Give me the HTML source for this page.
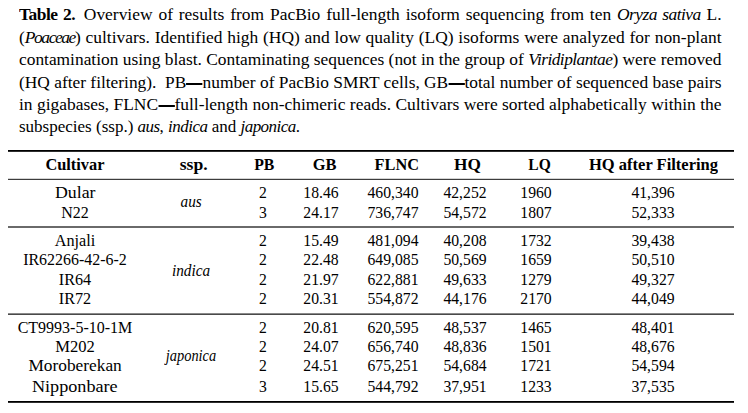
<!DOCTYPE html>
<html><head><meta charset="utf-8"><style>
html,body{margin:0;padding:0;background:#fff;}
body{width:748px;height:413px;position:relative;overflow:hidden;font-family:"Liberation Serif",serif;color:#000;}
.cap{position:absolute;left:19px;white-space:nowrap;font-size:16px;line-height:20px;transform-origin:0 0;}
.j{text-align:justify;text-align-last:justify;white-space:nowrap;}
.c{position:absolute;white-space:nowrap;font-size:16px;line-height:20px;width:300px;text-align:center;}
.c span{display:inline-block;}
.rule{position:absolute;left:8px;width:726px;}
b{font-weight:bold;}
.cap b{letter-spacing:-0.45px;}
.cap i{letter-spacing:-0.5px;}
.d{display:inline-block;width:15px;height:1.6px;background:#000;vertical-align:3.4px;}
</style></head>
<body>
<div class="cap j" style="top:5.00px;width:644.50px;transform:scaleX(1.0900)"><b>Table 2.</b>&ensp;Overview of results from PacBio full-length isoform sequencing from ten <i>Oryza sativa</i> L.</div>
<div class="cap j" style="top:27.50px;width:644.50px;transform:scaleX(1.0900)">(<i style="letter-spacing:-1.3px">Poaceae</i>) cultivars. Identified high (HQ) and low quality (LQ) isoforms were analyzed for non-plant</div>
<div class="cap j" style="top:50.00px;width:647.14px;transform:scaleX(1.0855)">contamination using blast. Contaminating sequences (not in the group of <i>Viridiplantae</i>) were removed</div>
<div class="cap j" style="top:73.00px;width:647.60px;transform:scaleX(1.0848)">(HQ after filtering).&ensp;PB<span class=d></span>number of PacBio SMRT cells, GB<span class=d></span>total number of sequenced base pairs</div>
<div class="cap j" style="top:95.00px;width:644.50px;transform:scaleX(1.0900)">in gigabases, FLNC<span class=d></span>full-length non-chimeric reads. Cultivars were sorted alphabetically within the</div>
<div class="cap" style="top:117.00px;transform:scaleX(1.0628)">subspecies (ssp.) <i>aus</i>, <i>indica</i> and <i>japonica</i>.</div>
<div class="rule" style="top:150px;height:1px;background:#000"></div>
<div class="rule" style="top:151px;height:1px;background:#2e2e2e"></div>
<div class="rule" style="top:178px;height:1px;background:#d4d4d4"></div>
<div class="rule" style="top:179px;height:1px;background:#3c3c3c"></div>
<div class="rule" style="top:226px;height:2px;background:#6a6a6a"></div>
<div class="rule" style="top:313px;height:1px;background:#8a8a8a"></div>
<div class="rule" style="top:314px;height:1px;background:#4a4a4a"></div>
<div class="rule" style="top:401px;height:1px;background:#000"></div>
<div class="rule" style="top:402px;height:1px;background:#2e2e2e"></div>
<div class="c" style="left:-75.50px;top:154.60px;font-weight:bold"><span style="transform:scaleX(1.0210)">Cultivar</span></div>
<div class="c" style="left:43.60px;top:154.60px;font-weight:bold"><span style="transform:scaleX(1.1000)">ssp.</span></div>
<div class="c" style="left:114.40px;top:154.60px;font-weight:bold"><span style="transform:scaleX(0.9840)">PB</span></div>
<div class="c" style="left:174.40px;top:154.60px;font-weight:bold"><span style="transform:scaleX(1.0270)">GB</span></div>
<div class="c" style="left:246.30px;top:154.60px;font-weight:bold"><span style="transform:scaleX(1.0190)">FLNC</span></div>
<div class="c" style="left:317.70px;top:154.60px;font-weight:bold"><span style="transform:scaleX(1.0790)">HQ</span></div>
<div class="c" style="left:390.00px;top:154.60px;font-weight:bold"><span style="transform:scaleX(0.9730)">LQ</span></div>
<div class="c" style="left:503.70px;top:154.60px;font-weight:bold"><span style="transform:scaleX(1.0320)">HQ after Filtering</span></div>
<div class="c" style="left:-75.00px;top:182.60px;"><span style="transform:scaleX(1.1110)">Dular</span></div>
<div class="c" style="left:113.00px;top:182.60px;"><span style="transform:scaleX(0.9800)">2</span></div>
<div class="c" style="left:171.00px;top:182.60px;"><span style="transform:scaleX(0.9800)">18.46</span></div>
<div class="c" style="left:243.00px;top:182.60px;"><span style="transform:scaleX(0.9800)">460,340</span></div>
<div class="c" style="left:315.20px;top:182.60px;"><span style="transform:scaleX(0.9800)">42,252</span></div>
<div class="c" style="left:386.20px;top:182.60px;"><span style="transform:scaleX(0.9800)">1960</span></div>
<div class="c" style="left:503.00px;top:182.60px;"><span style="transform:scaleX(0.9800)">41,396</span></div>
<div class="c" style="left:-75.00px;top:202.60px;"><span style="transform:scaleX(1.0000)">N22</span></div>
<div class="c" style="left:113.00px;top:202.60px;"><span style="transform:scaleX(0.9800)">3</span></div>
<div class="c" style="left:171.00px;top:202.60px;"><span style="transform:scaleX(0.9800)">24.17</span></div>
<div class="c" style="left:243.00px;top:202.60px;"><span style="transform:scaleX(0.9800)">736,747</span></div>
<div class="c" style="left:315.20px;top:202.60px;"><span style="transform:scaleX(0.9800)">54,572</span></div>
<div class="c" style="left:386.20px;top:202.60px;"><span style="transform:scaleX(0.9800)">1807</span></div>
<div class="c" style="left:503.00px;top:202.60px;"><span style="transform:scaleX(0.9800)">52,333</span></div>
<div class="c" style="left:-75.00px;top:230.80px;"><span style="transform:scaleX(1.0130)">Anjali</span></div>
<div class="c" style="left:113.00px;top:230.80px;"><span style="transform:scaleX(0.9800)">2</span></div>
<div class="c" style="left:171.00px;top:230.80px;"><span style="transform:scaleX(0.9800)">15.49</span></div>
<div class="c" style="left:243.00px;top:230.80px;"><span style="transform:scaleX(0.9800)">481,094</span></div>
<div class="c" style="left:315.20px;top:230.80px;"><span style="transform:scaleX(0.9800)">40,208</span></div>
<div class="c" style="left:386.20px;top:230.80px;"><span style="transform:scaleX(0.9800)">1732</span></div>
<div class="c" style="left:503.00px;top:230.80px;"><span style="transform:scaleX(0.9800)">39,438</span></div>
<div class="c" style="left:-75.00px;top:249.90px;"><span style="transform:scaleX(0.9970)">IR62266-42-6-2</span></div>
<div class="c" style="left:113.00px;top:249.90px;"><span style="transform:scaleX(0.9800)">2</span></div>
<div class="c" style="left:171.00px;top:249.90px;"><span style="transform:scaleX(0.9800)">22.48</span></div>
<div class="c" style="left:243.00px;top:249.90px;"><span style="transform:scaleX(0.9800)">649,085</span></div>
<div class="c" style="left:315.20px;top:249.90px;"><span style="transform:scaleX(0.9800)">50,569</span></div>
<div class="c" style="left:386.20px;top:249.90px;"><span style="transform:scaleX(0.9800)">1659</span></div>
<div class="c" style="left:503.00px;top:249.90px;"><span style="transform:scaleX(0.9800)">50,510</span></div>
<div class="c" style="left:-75.00px;top:269.90px;"><span style="transform:scaleX(1.0100)">IR64</span></div>
<div class="c" style="left:113.00px;top:269.90px;"><span style="transform:scaleX(0.9800)">2</span></div>
<div class="c" style="left:171.00px;top:269.90px;"><span style="transform:scaleX(0.9800)">21.97</span></div>
<div class="c" style="left:243.00px;top:269.90px;"><span style="transform:scaleX(0.9800)">622,881</span></div>
<div class="c" style="left:315.20px;top:269.90px;"><span style="transform:scaleX(0.9800)">49,633</span></div>
<div class="c" style="left:386.20px;top:269.90px;"><span style="transform:scaleX(0.9800)">1279</span></div>
<div class="c" style="left:503.00px;top:269.90px;"><span style="transform:scaleX(0.9800)">49,327</span></div>
<div class="c" style="left:-75.00px;top:289.00px;"><span style="transform:scaleX(1.0100)">IR72</span></div>
<div class="c" style="left:113.00px;top:289.00px;"><span style="transform:scaleX(0.9800)">2</span></div>
<div class="c" style="left:171.00px;top:289.00px;"><span style="transform:scaleX(0.9800)">20.31</span></div>
<div class="c" style="left:243.00px;top:289.00px;"><span style="transform:scaleX(0.9800)">554,872</span></div>
<div class="c" style="left:315.20px;top:289.00px;"><span style="transform:scaleX(0.9800)">44,176</span></div>
<div class="c" style="left:386.20px;top:289.00px;"><span style="transform:scaleX(0.9800)">2170</span></div>
<div class="c" style="left:503.00px;top:289.00px;"><span style="transform:scaleX(0.9800)">44,049</span></div>
<div class="c" style="left:-75.00px;top:317.60px;"><span style="transform:scaleX(1.0000)">CT9993-5-10-1M</span></div>
<div class="c" style="left:113.00px;top:317.60px;"><span style="transform:scaleX(0.9800)">2</span></div>
<div class="c" style="left:171.00px;top:317.60px;"><span style="transform:scaleX(0.9800)">20.81</span></div>
<div class="c" style="left:243.00px;top:317.60px;"><span style="transform:scaleX(0.9800)">620,595</span></div>
<div class="c" style="left:315.20px;top:317.60px;"><span style="transform:scaleX(0.9800)">48,537</span></div>
<div class="c" style="left:386.20px;top:317.60px;"><span style="transform:scaleX(0.9800)">1465</span></div>
<div class="c" style="left:503.00px;top:317.60px;"><span style="transform:scaleX(0.9800)">48,401</span></div>
<div class="c" style="left:-75.00px;top:336.60px;"><span style="transform:scaleX(1.0350)">M202</span></div>
<div class="c" style="left:113.00px;top:336.60px;"><span style="transform:scaleX(0.9800)">2</span></div>
<div class="c" style="left:171.00px;top:336.60px;"><span style="transform:scaleX(0.9800)">24.07</span></div>
<div class="c" style="left:243.00px;top:336.60px;"><span style="transform:scaleX(0.9800)">656,740</span></div>
<div class="c" style="left:315.20px;top:336.60px;"><span style="transform:scaleX(0.9800)">48,836</span></div>
<div class="c" style="left:386.20px;top:336.60px;"><span style="transform:scaleX(0.9800)">1501</span></div>
<div class="c" style="left:503.00px;top:336.60px;"><span style="transform:scaleX(0.9800)">48,676</span></div>
<div class="c" style="left:-75.00px;top:355.90px;"><span style="transform:scaleX(1.0820)">Moroberekan</span></div>
<div class="c" style="left:113.00px;top:355.90px;"><span style="transform:scaleX(0.9800)">2</span></div>
<div class="c" style="left:171.00px;top:355.90px;"><span style="transform:scaleX(0.9800)">24.51</span></div>
<div class="c" style="left:243.00px;top:355.90px;"><span style="transform:scaleX(0.9800)">675,251</span></div>
<div class="c" style="left:315.20px;top:355.90px;"><span style="transform:scaleX(0.9800)">54,684</span></div>
<div class="c" style="left:386.20px;top:355.90px;"><span style="transform:scaleX(0.9800)">1721</span></div>
<div class="c" style="left:503.00px;top:355.90px;"><span style="transform:scaleX(0.9800)">54,594</span></div>
<div class="c" style="left:-75.00px;top:376.60px;"><span style="transform:scaleX(1.1350)">Nipponbare</span></div>
<div class="c" style="left:113.00px;top:376.60px;"><span style="transform:scaleX(0.9800)">3</span></div>
<div class="c" style="left:171.00px;top:376.60px;"><span style="transform:scaleX(0.9800)">15.65</span></div>
<div class="c" style="left:243.00px;top:376.60px;"><span style="transform:scaleX(0.9800)">544,792</span></div>
<div class="c" style="left:315.20px;top:376.60px;"><span style="transform:scaleX(0.9800)">37,951</span></div>
<div class="c" style="left:386.20px;top:376.60px;"><span style="transform:scaleX(0.9800)">1233</span></div>
<div class="c" style="left:503.00px;top:376.60px;"><span style="transform:scaleX(0.9800)">37,535</span></div>
<div class="c" style="left:41.00px;top:192.10px;font-style:italic"><span style="transform:scaleX(0.9500)">aus</span></div>
<div class="c" style="left:41.00px;top:261.10px;font-style:italic"><span style="transform:scaleX(0.9540)">indica</span></div>
<div class="c" style="left:41.00px;top:346.20px;font-style:italic"><span style="transform:scaleX(0.9000)">japonica</span></div>
</body></html>
